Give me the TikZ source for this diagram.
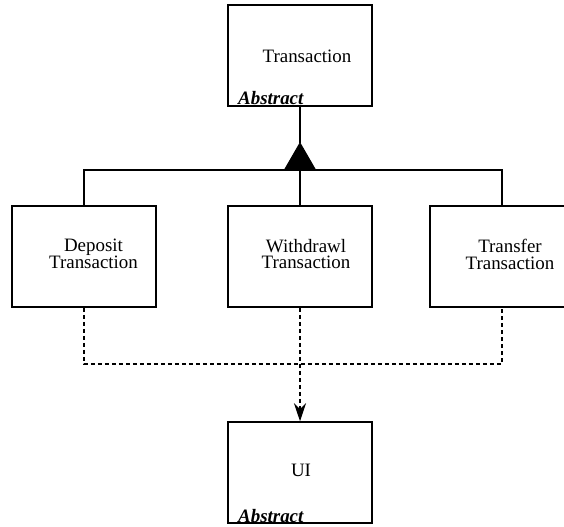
\documentclass[tikz,border=0pt]{standalone}
\usepackage{fontspec}
\setmainfont{Liberation Serif}
\usetikzlibrary{arrows.meta}
\tikzset{
  clsbox/.style={draw=black, line width=1.5bp, fill=white, minimum width=144bp, minimum height=101bp, inner sep=0pt},
  clstext/.style={align=center, font=\fontsize{19}{17}\selectfont, inner sep=0pt},
  abstxt/.style={anchor=base west, inner sep=0pt, font=\fontsize{19}{17}\selectfont\bfseries\itshape},
  solidline/.style={line width=1.5bp},
  dashline/.style={line width=1.5bp, dash pattern=on 4bp off 3bp},
  inherit/.style={fill=black, draw=black, line width=1bp, line join=miter}
}
\begin{document}
\begin{tikzpicture}[x=1bp,y=-1bp]
\useasboundingbox (0,0) rectangle (564,527);
% boxes
\node[clsbox] (trans) at (300,55.5) {};
\node[clsbox] (dep) at (84,256.5) {};
\node[clsbox] (wdr) at (300,256.5) {};
\node[clsbox] (trf) at (502,256.5) {};
\node[clsbox] (ui) at (300,472.5) {};
% texts
\node[clstext] (transT) at (307,56) {Transaction};
\node[clstext] (depT) at (93.5,254) {Deposit\\Transaction};
\node[clstext] (wdrT) at (306,254) {Withdrawl\\Transaction};
\node[clstext] (trfT) at (510,254) {Transfer\\Transaction};
\node[clstext] (uiT) at (301,470) {UI};
\node[abstxt] (transA) at (238,105) {Abstract};
\node[abstxt] (uiA) at (238,522) {Abstract};
% generalization
\coordinate (apex) at (300,143);
\coordinate (hub) at (300,170);
\draw[solidline] (apex) -- (trans.south);
\draw[solidline] (dep.north) |- (hub) -| (trf.north);
\draw[solidline] (hub) -- (wdr.north);
\draw[inherit] (apex) -- (315,169) -- (285,169) -- cycle;
% dependency
\coordinate (bus) at (300,364);
\draw[dashline] (dep.south) |- (bus) -| (trf.south);
\draw[dashline, -{Stealth[length=18bp,width=12bp,inset=6bp]}] (wdr.south) -- (ui.north);
\end{tikzpicture}
\end{document}
